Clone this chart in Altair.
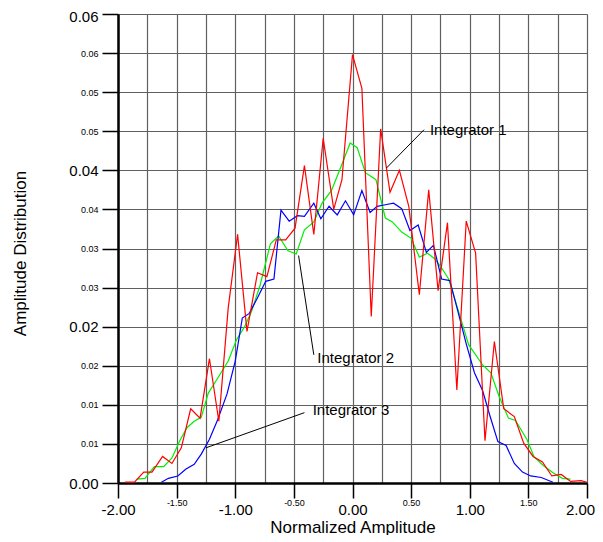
import json
import altair as alt
import pandas as pd

# ---------------- data ----------------
red_x = [-1.94, -1.86, -1.78, -1.71, -1.62, -1.54, -1.46, -1.38, -1.30, -1.22,
         -1.14, -1.06, -0.98, -0.90, -0.81, -0.73, -0.65, -0.57, -0.49, -0.41,
         -0.33, -0.25, -0.16, -0.09, 0.00, 0.08, 0.16, 0.24, 0.32, 0.40,
         0.48, 0.57, 0.65, 0.73, 0.81, 0.89, 0.97, 1.05, 1.13, 1.21,
         1.29, 1.38, 1.46, 1.54, 1.62, 1.70, 1.78, 1.86, 1.95, 2.00]
red_y = [0.0001, 0.0001, 0.0014, 0.0014, 0.0034, 0.0025, 0.0045, 0.0095, 0.0083, 0.0159,
         0.0079, 0.0224, 0.0318, 0.0194, 0.0269, 0.0264, 0.0311, 0.0311, 0.0326, 0.0406,
         0.0318, 0.0441, 0.0350, 0.0388, 0.0548, 0.0505, 0.0213, 0.0453, 0.0372, 0.0400,
         0.0354, 0.0241, 0.0375, 0.0246, 0.0333, 0.0119, 0.0335, 0.0294, 0.0054, 0.0181,
         0.0095, 0.0085, 0.0051, 0.0034, 0.0027, 0.0009, 0.0011, 0.0002, 0.0003, 0.0001]

green_x = [-1.84, -1.77, -1.69, -1.61, -1.54, -1.47, -1.41, -1.35, -1.29, -1.23,
           -1.15, -1.06, -0.99, -0.92, -0.86, -0.79, -0.70, -0.63, -0.55, -0.48,
           -0.41, -0.33, -0.26, -0.18, -0.10, -0.02, 0.04, 0.11, 0.20, 0.28,
           0.34, 0.42, 0.50, 0.57, 0.64, 0.70, 0.76, 0.82, 0.91, 0.99,
           1.11, 1.18, 1.25, 1.33, 1.39, 1.49, 1.55, 1.63, 1.71, 1.79, 1.86]
green_y = [0.0005, 0.0006, 0.0021, 0.0021, 0.0032, 0.0055, 0.0071, 0.0079, 0.0084, 0.0115,
           0.0134, 0.0156, 0.0183, 0.0200, 0.0220, 0.0252, 0.0306, 0.0316, 0.0297, 0.0293,
           0.0324, 0.0334, 0.0358, 0.0374, 0.0404, 0.0435, 0.0429, 0.0397, 0.0388, 0.0339,
           0.0334, 0.0321, 0.0313, 0.0289, 0.0294, 0.0287, 0.0275, 0.0261, 0.0217, 0.0177,
           0.0151, 0.0141, 0.0111, 0.0083, 0.0080, 0.0055, 0.0033, 0.0022, 0.0013, 0.0006, 0.0005]

blue_x = [-1.63, -1.57, -1.49, -1.42, -1.35, -1.29, -1.22, -1.15, -1.07, -1.00,
          -0.94, -0.88, -0.81, -0.74, -0.67, -0.61, -0.54, -0.47, -0.41, -0.33,
          -0.27, -0.20, -0.13, -0.06, 0.01, 0.08, 0.15, 0.21, 0.28, 0.35,
          0.42, 0.49, 0.56, 0.63, 0.69, 0.76, 0.83, 0.90, 0.97, 1.04,
          1.11, 1.17, 1.24, 1.31, 1.38, 1.45, 1.52, 1.61, 1.71]
blue_y = [0.0001, 0.0006, 0.0009, 0.0018, 0.0024, 0.0037, 0.0056, 0.0081, 0.0114, 0.0156,
          0.0211, 0.0217, 0.0237, 0.0258, 0.0261, 0.0349, 0.0335, 0.0342, 0.0341, 0.0358,
          0.0338, 0.0354, 0.0343, 0.0361, 0.0343, 0.0374, 0.0346, 0.0354, 0.0356, 0.0358,
          0.0351, 0.0323, 0.0330, 0.0295, 0.0304, 0.0261, 0.0259, 0.0219, 0.0178, 0.0141,
          0.0118, 0.0087, 0.0053, 0.0048, 0.0025, 0.0014, 0.0009, 0.0007, 0.0001]

x_grid = [-2.0, -1.75, -1.5, -1.25, -1.0, -0.75, -0.5, -0.25, 0.0,
          0.25, 0.5, 0.75, 1.0, 1.25, 1.5, 1.75, 2.0]
x_tick_labels = ["-2.00", "-1.50", "-1.00", "-0.50", "0.00", "0.50", "1.00", "1.50", "2.00"]
y_ticks = [0.0, 0.005, 0.01, 0.015, 0.02, 0.025, 0.03, 0.035, 0.04, 0.045, 0.05, 0.055, 0.06]
y_tick_labels = ["0.00", "0.01", "0.01", "0.02", "0.02", "0.03", "0.03",
                 "0.04", "0.04", "0.05", "0.05", "0.06", "0.06"]

label_names = ["Integrator 1", "Integrator 2", "Integrator 3"]
label_x = [0.66, -0.30, -0.34]
label_y = [0.0452, 0.0160, 0.0093]
leader_x = [0.29, -0.46, -1.25]
leader_y = [0.0403, 0.0291, 0.0045]
leader_x2 = [0.61, -0.33, -0.41]
leader_y2 = [0.0452, 0.0164, 0.0090]

FONT = "Liberation Sans"

# ---------------- chart ----------------
xscale = alt.Scale(domain=[-2, 2], nice=False, zero=False)
yscale = alt.Scale(domain=[0, 0.06], nice=False, zero=True)

x_label_expr = ("round(datum.value*4) % 2 == 0 ? " + json.dumps(x_tick_labels)
                + "[round(datum.value*2) + 4] : ''")
y_label_expr = json.dumps(y_tick_labels) + "[round(datum.value*200)]"

GRID = "#606060"

x_axis = alt.Axis(
    values=x_grid, labelExpr=x_label_expr, grid=True,
    title="Normalized Amplitude", titleFont=FONT, titleFontSize=17,
    titleFontWeight="normal", titleColor="black",
    titleX=234.5, titleY=44, titleBaseline="middle", titleAlign="center",
    labelFont=FONT, labelColor="black", labelAngle=0,
    labelFontSize={"condition": {"test": "round(datum.value*2) % 2 == 0", "value": 15}, "value": 9},
    labelPadding={"condition": {"test": "round(datum.value*2) % 2 == 0", "value": 4}, "value": 0},
    labelOffset={"condition": {"test": "datum.value > 1.9", "value": -7}, "value": 0},
    tickOpacity={"condition": {"test": "round(datum.value*4) % 2 == 0", "value": 1}, "value": 0},
    tickSize=15, tickColor="black", tickWidth=1.5,
    domainColor="black", domainWidth=2.5,
    gridColor=GRID, gridWidth=1.2, labelOverlap=False, labelFlush=False,
)
y_axis = alt.Axis(
    values=y_ticks, labelExpr=y_label_expr, grid=True,
    title="Amplitude Distribution", titleFont=FONT, titleFontSize=17,
    titleFontWeight="normal", titleColor="black",
    titleX=-98, titleY=239, titleBaseline="middle", titleAlign="center", titleAngle=270,
    labelFont=FONT, labelColor="black",
    labelFontSize={"condition": {"test": "round(datum.value*200) % 4 == 0", "value": 15}, "value": 9},
    labelOffset={"condition": {"test": "datum.value > 0.059", "value": 2}, "value": 0},
    labelPadding=4, tickSize=16, tickColor="black", tickWidth=1.5,
    domainColor="black", domainWidth=2.5,
    gridColor=GRID, gridWidth=1.2, labelOverlap=False, labelFlush=False,
)


def series(xs, ys, color):
    df = pd.DataFrame({"x": xs, "y": ys})
    return alt.Chart(df).mark_line(color=color, strokeWidth=1.2).encode(
        x=alt.X("x:Q", scale=xscale, axis=x_axis),
        y=alt.Y("y:Q", scale=yscale, axis=y_axis),
    )


green = series(green_x, green_y, "#00ee00")
blue = series(blue_x, blue_y, "#0000ff")
red = series(red_x, red_y, "#ff0000")

ann = pd.DataFrame({"name": label_names, "lx": label_x, "ly": label_y,
                    "x1": leader_x, "y1": leader_y, "x2": leader_x2, "y2": leader_y2})
leaders = alt.Chart(ann).mark_rule(color="black", strokeWidth=1).encode(
    x=alt.X("x1:Q", scale=xscale, axis=x_axis), y=alt.Y("y1:Q", scale=yscale, axis=y_axis),
    x2="x2:Q", y2="y2:Q",
)
texts = alt.Chart(ann).mark_text(align="left", baseline="middle", font=FONT,
                                 fontSize=15, color="black").encode(
    x=alt.X("lx:Q", scale=xscale, axis=x_axis), y=alt.Y("ly:Q", scale=yscale, axis=y_axis),
    text="name:N",
)

chart = alt.layer(green, blue, red, leaders, texts).properties(
    width=469, height=469,
    autosize=alt.AutoSizeParams(type="none"),
    padding={"left": 110, "top": 6, "right": 8, "bottom": 52},
).configure_view(stroke=None).configure(background="white")

chart.save("out.html", embed_options={"renderer": "svg", "actions": False})
